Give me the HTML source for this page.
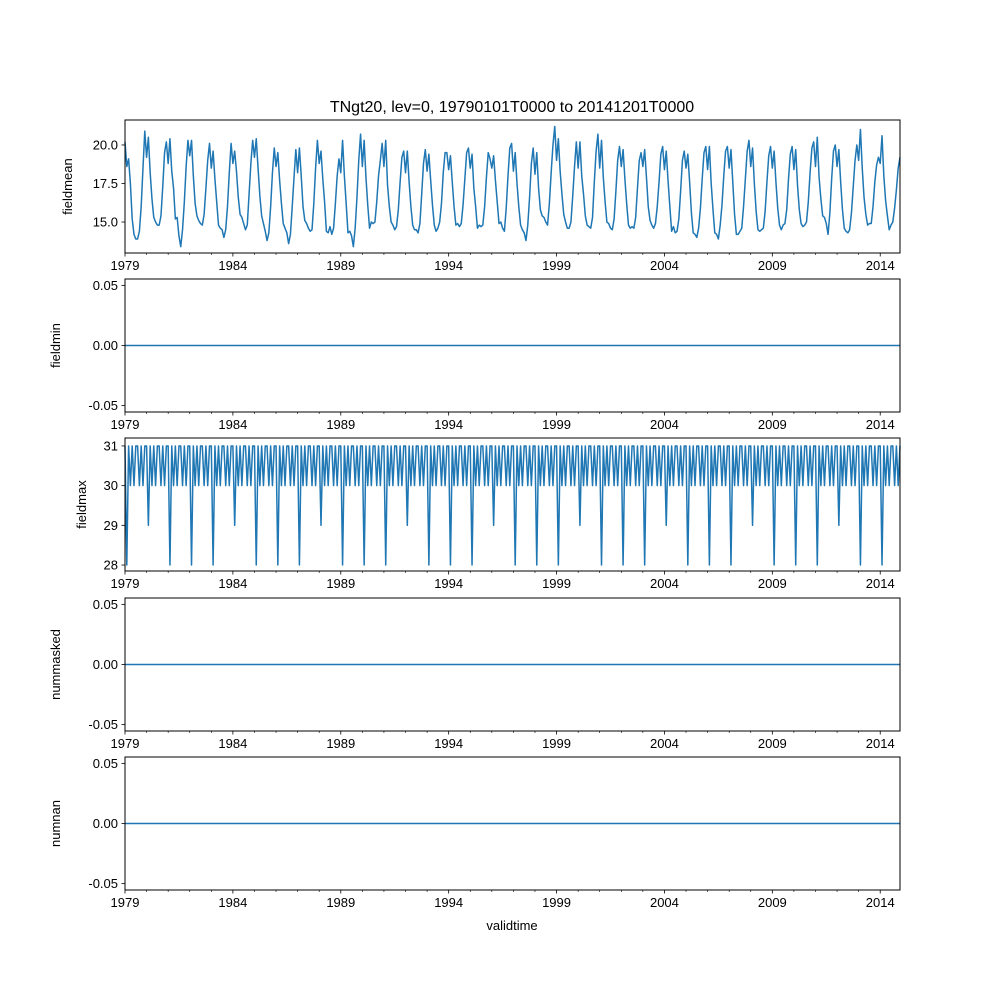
<!DOCTYPE html>
<html><head><meta charset="utf-8"><style>
body{margin:0;background:#fff;}
svg{display:block;font-family:"Liberation Sans","DejaVu Sans",sans-serif;}
</style></head><body>
<svg id="fig" width="1000" height="1000" xmlns="http://www.w3.org/2000/svg"></svg>
<script>
const tickYears = [1979,1984,1989,1994,1999,2004,2009,2014];
const fieldmean = [
20.2,18.6,19.1,17.5,15.2,14.2,13.9,13.9,14.4,16.0,18.5,20.9,
19.2,20.5,18.2,16.5,15.3,15.0,14.8,14.8,15.4,17.3,19.5,20.2,
18.8,20.4,18.3,17.2,15.2,15.3,14.1,13.4,14.5,16.3,18.6,20.3,
19.3,20.3,18.0,16.2,15.4,15.1,14.9,14.8,15.5,17.2,19.0,20.1,
18.5,19.6,17.8,16.3,14.8,14.6,14.5,14.0,14.5,16.0,18.2,20.1,
18.8,19.6,18.3,16.6,15.5,15.3,14.9,14.5,14.8,16.8,18.8,20.3,
19.2,20.4,18.5,16.7,15.4,14.9,14.4,13.8,14.3,16.0,18.2,19.8,
18.6,19.5,17.7,16.2,14.9,14.6,14.3,13.6,14.2,16.0,17.9,19.7,
18.2,19.8,18.0,16.0,15.1,14.9,14.6,14.4,14.5,16.2,18.5,20.3,
18.8,19.6,17.8,16.3,14.4,14.3,14.7,14.2,14.6,16.2,18.0,19.1,
18.2,20.3,18.0,16.2,14.3,14.4,14.1,13.4,14.6,16.6,19.0,20.7,
18.6,20.3,17.9,16.1,14.6,15.0,14.9,15.0,16.3,18.0,19.0,20.1,
18.6,20.3,17.4,16.0,15.0,14.8,14.5,14.7,15.8,17.6,19.2,19.6,
18.2,19.6,17.6,16.0,14.8,14.5,14.5,14.3,14.9,16.8,18.8,19.7,
18.3,19.4,17.7,16.1,14.8,14.4,14.6,15.0,16.2,18.2,19.5,19.5,
18.4,19.3,17.6,16.0,14.8,14.9,14.7,14.9,16.1,17.8,19.5,19.8,
18.5,19.4,17.2,16.0,14.6,14.8,14.7,14.8,16.0,17.9,19.5,19.1,
18.5,19.3,17.7,16.3,14.9,15.0,14.6,14.4,15.9,18.0,19.8,20.1,
18.3,19.5,17.5,16.0,14.8,14.5,14.3,13.8,14.8,16.6,18.8,19.8,
18.1,19.5,17.2,15.8,15.4,15.3,15.0,14.8,16.2,18.2,20.0,21.2,
19.0,20.4,18.3,16.8,15.5,15.0,14.6,14.6,15.0,16.7,18.6,20.2,
18.5,20.2,18.0,16.8,15.4,14.8,14.7,14.6,15.3,17.6,19.6,20.7,
18.5,20.3,17.9,16.3,15.0,14.9,14.6,14.5,15.2,17.0,19.0,19.9,
18.6,19.7,17.8,16.2,14.8,14.6,14.7,14.6,15.3,17.2,19.0,19.5,
18.6,19.7,17.9,16.0,15.1,14.8,14.6,14.9,16.0,17.6,19.4,19.9,
18.4,19.6,17.7,16.0,14.4,14.7,14.3,14.4,15.2,17.0,19.0,19.6,
18.5,19.4,17.6,15.6,14.3,14.2,14.0,14.6,15.9,17.8,19.5,19.9,
18.4,19.9,17.5,15.8,14.3,14.2,13.9,14.8,16.1,18.0,19.6,19.9,
18.5,19.7,17.6,15.5,14.2,14.2,14.4,14.6,16.0,17.8,19.6,20.3,
18.6,19.8,17.5,15.7,14.5,14.4,14.5,14.6,15.7,17.6,19.3,19.9,
18.5,19.6,17.6,15.9,14.8,14.5,14.8,14.9,15.8,17.8,19.4,19.9,
18.4,19.7,17.4,15.8,14.9,14.7,14.8,15.0,16.3,18.2,19.8,20.2,
18.6,20.5,17.9,16.5,15.4,15.3,14.9,14.2,15.6,17.8,19.6,20.0,
18.6,19.7,17.6,15.8,14.6,14.4,14.3,14.5,15.6,17.3,19.0,20.0,
19.0,21.0,18.5,16.6,15.5,14.8,14.9,14.9,16.0,17.6,18.7,19.2,
18.8,20.6,18.0,16.4,15.4,14.5,14.8,15.0,15.9,17.1,18.5,19.2
];
const fieldmax = [
31,28,31,30,31,30,31,31,30,31,30,31,
31,29,31,30,31,30,31,31,30,31,30,31,
31,28,31,30,31,30,31,31,30,31,30,31,
31,28,31,30,31,30,31,31,30,31,30,31,
31,28,31,30,31,30,31,31,30,31,30,31,
31,29,31,30,31,30,31,31,30,31,30,31,
31,28,31,30,31,30,31,31,30,31,30,31,
31,28,31,30,31,30,31,31,30,31,30,31,
31,28,31,30,31,30,31,31,30,31,30,31,
31,29,31,30,31,30,31,31,30,31,30,31,
31,28,31,30,31,30,31,31,30,31,30,31,
31,28,31,30,31,30,31,31,30,31,30,31,
31,28,31,30,31,30,31,31,30,31,30,31,
31,29,31,30,31,30,31,31,30,31,30,31,
31,28,31,30,31,30,31,31,30,31,30,31,
31,28,31,30,31,30,31,31,30,31,30,31,
31,28,31,30,31,30,31,31,30,31,30,31,
31,29,31,30,31,30,31,31,30,31,30,31,
31,28,31,30,31,30,31,31,30,31,30,31,
31,28,31,30,31,30,31,31,30,31,30,31,
31,28,31,30,31,30,31,31,30,31,30,31,
31,29,31,30,31,30,31,31,30,31,30,31,
31,28,31,30,31,30,31,31,30,31,30,31,
31,28,31,30,31,30,31,31,30,31,30,31,
31,28,31,30,31,30,31,31,30,31,30,31,
31,29,31,30,31,30,31,31,30,31,30,31,
31,28,31,30,31,30,31,31,30,31,30,31,
31,28,31,30,31,30,31,31,30,31,30,31,
31,28,31,30,31,30,31,31,30,31,30,31,
31,29,31,30,31,30,31,31,30,31,30,31,
31,28,31,30,31,30,31,31,30,31,30,31,
31,28,31,30,31,30,31,31,30,31,30,31,
31,28,31,30,31,30,31,31,30,31,30,31,
31,29,31,30,31,30,31,31,30,31,30,31,
31,28,31,30,31,30,31,31,30,31,30,31,
31,28,31,30,31,30,31,31,30,31,30,31
];
const fieldmin = new Array(432).fill(0);
const nummasked = new Array(432).fill(0);
const numnan = new Array(432).fill(0);

const NS='http://www.w3.org/2000/svg';
const svg=document.getElementById('fig');
function el(tag,attrs,parent){const e=document.createElementNS(NS,tag);for(const k in attrs)e.setAttribute(k,attrs[k]);(parent||svg).appendChild(e);return e;}
const L=125,R=900;
function xOf(i){return L+(R-L)*i/431;}
function xYear(y){return L+(R-L)*((y-1979)*12)/431;}
const panels=[
 {name:'fieldmean',data:fieldmean,top:120,bot:253,ymin:12.99,ymax:21.62,ticks:[15,17.5,20],fmt:v=>v.toFixed(1),ylx:72},
 {name:'fieldmin',data:fieldmin,top:279,bot:412,ymin:-0.0553,ymax:0.0553,ticks:[-0.05,0,0.05],fmt:v=>v.toFixed(2),ylx:60},
 {name:'fieldmax',data:fieldmax,top:438,bot:571,ymin:27.85,ymax:31.2,ticks:[28,29,30,31],fmt:v=>v.toFixed(0),ylx:86},
 {name:'nummasked',data:nummasked,top:598,bot:731,ymin:-0.0553,ymax:0.0553,ticks:[-0.05,0,0.05],fmt:v=>v.toFixed(2),ylx:60},
 {name:'numnan',data:numnan,top:757,bot:890,ymin:-0.0553,ymax:0.0553,ticks:[-0.05,0,0.05],fmt:v=>v.toFixed(2),ylx:60}
];
panels.forEach(p=>{
 const g=el('g',{});
 
 
 const yOf=v=>p.bot-(v-p.ymin)/(p.ymax-p.ymin)*(p.bot-p.top);
 const d=p.data.map((v,i)=>(i?'L':'M')+xOf(i).toFixed(2)+' '+yOf(v).toFixed(2)).join(' ');
 const line=el('path',{d:d,fill:'none',stroke:'#1f77b4','stroke-width':1.5,'stroke-linejoin':'round'},g);
 
 
 const fr=el('rect',{x:L,y:p.top,width:R-L,height:p.bot-p.top,fill:'none',stroke:'#000','stroke-width':1},g);
 
 
 for(let y=1979;y<=2014;y++){
  const x=xYear(y),major=tickYears.includes(y);
  el('line',{x1:x,x2:x,y1:p.bot,y2:p.bot+(major?3.5:2),stroke:'#000','stroke-width':major?0.8:0.6},g);
  if(major){const t=el('text',{x:x,y:p.bot+17,'text-anchor':'middle','font-size':13},g);t.textContent=y;
   }
 }
 p.ticks.forEach(v=>{const y=yOf(v);
  el('line',{x1:L-3.5,x2:L,y1:y,y2:y,stroke:'#000','stroke-width':0.8},g);
  const t=el('text',{x:L-7,y:y+4.5,'text-anchor':'end','font-size':13},g);t.textContent=p.fmt(v);
  });
 const cy=(p.top+p.bot)/2;
 const yl=el('text',{x:p.ylx,y:cy,'text-anchor':'middle','font-size':13,transform:`rotate(-90 ${p.ylx} ${cy})`},g);
 yl.textContent=p.name;
 
 
});
const title=el('text',{x:512,y:112,'text-anchor':'middle','font-size':16});
title.textContent='TNgt20, lev=0, 19790101T0000 to 20141201T0000';


const xl=el('text',{x:512,y:930,'text-anchor':'middle','font-size':13});
xl.textContent='validtime';


</script>
</body></html>
